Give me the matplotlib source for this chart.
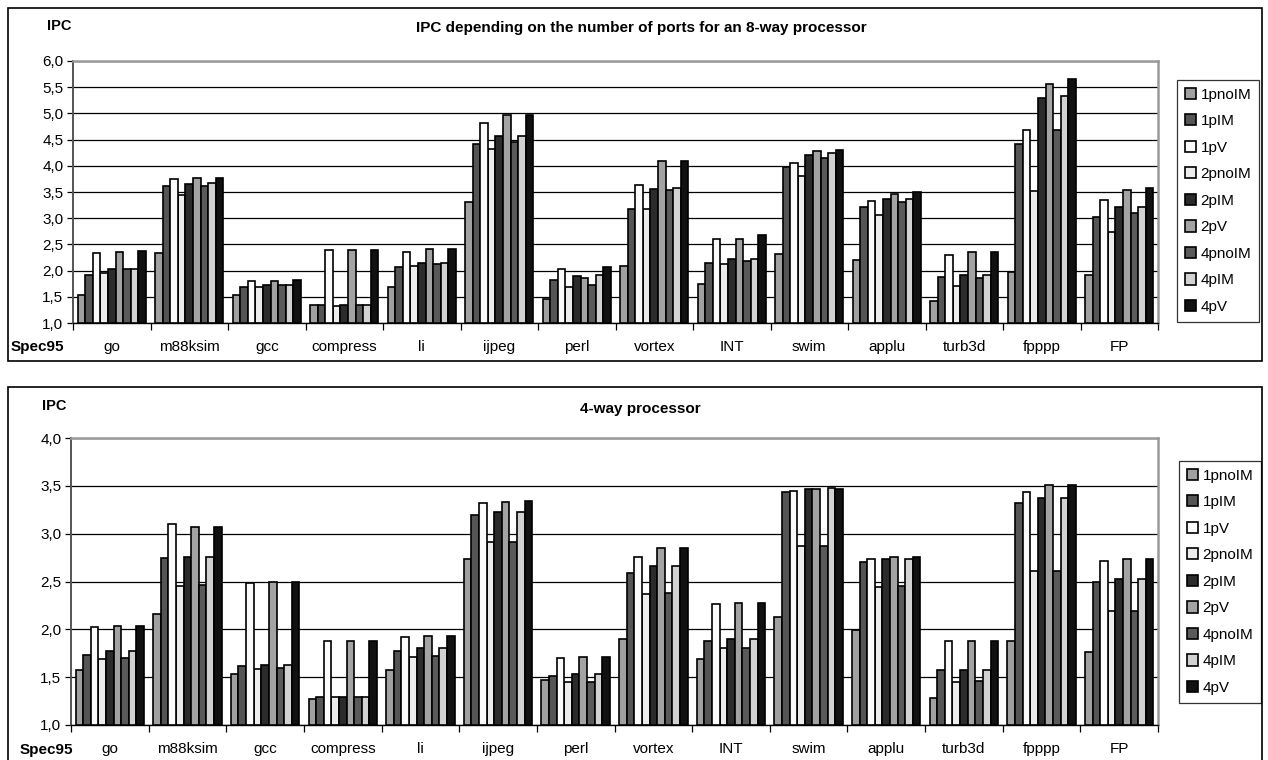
import numpy as np
import matplotlib.pyplot as plt
from matplotlib.patches import Rectangle
from matplotlib.ticker import FuncFormatter, MultipleLocator

plt.rcParams['font.family'] = ['Liberation Sans', 'DejaVu Sans']

benchmarks = ['go', 'm88ksim', 'gcc', 'compress', 'li', 'ijpeg', 'perl',
              'vortex', 'INT', 'swim', 'applu', 'turb3d', 'fpppp', 'FP']
configs = ['1pnoIM', '1pIM', '1pV', '2pnoIM', '2pIM', '2pV',
           '4pnoIM', '4pIM', '4pV']
fills = ['#a0a0a0', '#555555', '#fbfbfb', '#ececec', '#2b2b2b',
         '#a3a3a3', '#5a5a5a', '#d2d2d2', '#111111']

# IPC per benchmark, one list per port configuration (8-way machine)
ipc8_1pnoIM = [1.53, 2.33, 1.54, 1.34, 1.68, 3.31, 1.45, 2.08, 1.75, 2.32, 2.20, 1.42, 1.98, 1.91]
ipc8_1pIM   = [1.92, 3.61, 1.69, 1.34, 2.07, 4.41, 1.82, 3.17, 2.15, 3.97, 3.22, 1.87, 4.42, 3.02]
ipc8_1pV    = [2.33, 3.74, 1.80, 2.40, 2.35, 4.82, 2.04, 3.64, 2.61, 4.06, 3.33, 2.30, 4.68, 3.35]
ipc8_2pnoIM = [1.95, 3.44, 1.68, 1.33, 2.08, 4.32, 1.68, 3.18, 2.13, 3.81, 3.07, 1.71, 3.51, 2.74]
ipc8_2pIM   = [2.03, 3.66, 1.72, 1.34, 2.15, 4.56, 1.90, 3.55, 2.23, 4.20, 3.36, 1.92, 5.29, 3.21]
ipc8_2pV    = [2.36, 3.77, 1.81, 2.40, 2.41, 4.96, 1.85, 4.10, 2.61, 4.28, 3.47, 2.35, 5.57, 3.54]
ipc8_4pnoIM = [2.03, 3.62, 1.72, 1.34, 2.13, 4.45, 1.72, 3.54, 2.18, 4.14, 3.31, 1.85, 4.68, 3.09]
ipc8_4pIM   = [2.04, 3.68, 1.72, 1.34, 2.15, 4.57, 1.91, 3.57, 2.23, 4.24, 3.37, 1.91, 5.34, 3.22]
ipc8_4pV    = [2.37, 3.77, 1.82, 2.40, 2.41, 4.97, 2.06, 4.10, 2.67, 4.31, 3.50, 2.35, 5.66, 3.57]

# same for the 4-way machine
ipc4_1pnoIM = [1.58, 2.16, 1.53, 1.27, 1.57, 2.73, 1.47, 1.90, 1.69, 2.13, 1.99, 1.28, 1.88, 1.76]
ipc4_1pIM   = [1.73, 2.75, 1.62, 1.29, 1.77, 3.19, 1.51, 2.59, 1.88, 3.44, 2.70, 1.57, 3.32, 2.50]
ipc4_1pV    = [2.02, 3.10, 2.48, 1.88, 1.92, 3.32, 1.70, 2.76, 2.27, 3.45, 2.74, 1.88, 3.44, 2.71]
ipc4_2pnoIM = [1.69, 2.45, 1.59, 1.29, 1.71, 2.91, 1.45, 2.37, 1.80, 2.87, 2.44, 1.45, 2.61, 2.19]
ipc4_2pIM   = [1.77, 2.76, 1.63, 1.29, 1.80, 3.23, 1.53, 2.66, 1.90, 3.47, 2.74, 1.58, 3.37, 2.53]
ipc4_2pV    = [2.03, 3.07, 2.49, 1.88, 1.93, 3.33, 1.71, 2.85, 2.28, 3.47, 2.76, 1.88, 3.51, 2.73]
ipc4_4pnoIM = [1.70, 2.46, 1.60, 1.29, 1.72, 2.91, 1.45, 2.38, 1.80, 2.87, 2.45, 1.46, 2.61, 2.19]
ipc4_4pIM   = [1.77, 2.76, 1.63, 1.29, 1.80, 3.23, 1.53, 2.66, 1.90, 3.48, 2.74, 1.58, 3.37, 2.53]
ipc4_4pV    = [2.04, 3.07, 2.50, 1.88, 1.93, 3.34, 1.71, 2.85, 2.28, 3.47, 2.76, 1.88, 3.51, 2.73]

ipc8 = [ipc8_1pnoIM, ipc8_1pIM, ipc8_1pV, ipc8_2pnoIM, ipc8_2pIM,
        ipc8_2pV, ipc8_4pnoIM, ipc8_4pIM, ipc8_4pV]
ipc4 = [ipc4_1pnoIM, ipc4_1pIM, ipc4_1pV, ipc4_2pnoIM, ipc4_2pIM,
        ipc4_2pV, ipc4_4pnoIM, ipc4_4pIM, ipc4_4pV]

W, H = 1268, 760
fig = plt.figure(figsize=(W / 100, H / 100), dpi=100)


def px(x0, y0, x1, y1):
    # pixel box -> figure fraction rect
    return [x0 / W, 1 - y1 / H, (x1 - x0) / W, (y1 - y0) / H]


def draw_panel(ax, data, ymax, base=1.0):
    n = len(benchmarks)
    x = np.arange(n) + 0.5
    step = 0.098
    offs = (np.arange(len(configs)) - 4) * step
    for k, (vals, c) in enumerate(zip(data, fills)):
        vals = np.array(vals)
        z = 2 if k == 3 else 3
        ax.bar(x + offs[k], vals - base, bottom=base, width=step,
               color=c, edgecolor='black', linewidth=1.2, zorder=z,
               label=configs[k])
    ax.set_xlim(0, n)
    ax.set_ylim(base, ymax)
    ax.yaxis.set_major_locator(MultipleLocator(0.5))
    ax.yaxis.set_major_formatter(FuncFormatter(lambda v, p: f'{v:.1f}'.replace('.', ',')))
    ax.grid(axis='y', color='black', linewidth=0.9, zorder=1)
    ax.set_axisbelow(True)
    ax.set_xticks(np.arange(n + 1))
    ax.set_xticklabels([])
    ax.set_xticks(x, minor=True)
    ax.set_xticklabels(benchmarks, minor=True, fontsize=11)
    ax.tick_params(axis='x', which='major', length=5, direction='out', width=0.9)
    ax.tick_params(axis='x', which='minor', length=0, pad=12)
    ax.tick_params(axis='y', length=4, width=0.9, labelsize=11, pad=3)
    ax.spines['top'].set_color('#9a9a9a')
    ax.spines['right'].set_color('#9a9a9a')
    ax.spines['top'].set_linewidth(1.8)
    ax.spines['right'].set_linewidth(1.8)
    ax.spines['left'].set_color('#555555')
    ax.spines['left'].set_linewidth(1.4)
    ax.spines['bottom'].set_linewidth(1.0)
    leg = ax.legend(loc='upper left', frameon=True, fancybox=False,
                    fontsize=11, handlelength=0.75, handleheight=0.75,
                    handletextpad=0.3, labelspacing=0.82, borderpad=0.5,
                    borderaxespad=0, edgecolor='black')
    leg.get_frame().set_linewidth(0.9)
    return leg


# panel frames
fig.add_artist(Rectangle((8 / W, 1 - 361 / H), 1254 / W, 353 / H,
                         transform=fig.transFigure, fill=False,
                         edgecolor='black', linewidth=1.2))
fig.add_artist(Rectangle((8 / W, 1 - 800 / H), 1254 / W, 413 / H,
                         transform=fig.transFigure, fill=False,
                         edgecolor='black', linewidth=1.2))

ax1 = fig.add_axes(px(73, 61, 1158, 323))
leg1 = draw_panel(ax1, ipc8, 6.0)
leg1.set_bbox_to_anchor((1177 / W, 1 - 80 / H), transform=fig.transFigure)

ax2 = fig.add_axes(px(71, 438, 1158, 725))
leg2 = draw_panel(ax2, ipc4, 4.0)
leg2.set_bbox_to_anchor((1179 / W, 1 - 461 / H), transform=fig.transFigure)

fig.text(641 / W, 1 - 28 / H, 'IPC depending on the number of ports for an 8-way processor',
         ha='center', va='center', fontsize=11, fontweight='bold')
fig.text(640 / W, 1 - 409 / H, '4-way processor',
         ha='center', va='center', fontsize=11, fontweight='bold')
fig.text(59 / W, 1 - 26 / H, 'IPC', ha='center', va='center', fontsize=10.5, fontweight='bold')
fig.text(54 / W, 1 - 406 / H, 'IPC', ha='center', va='center', fontsize=10.5, fontweight='bold')
fig.text(37 / W, 1 - 347 / H, 'Spec95', ha='center', va='center', fontsize=11, fontweight='bold')
fig.text(46 / W, 1 - 750 / H, 'Spec95', ha='center', va='center', fontsize=11, fontweight='bold')

fig.savefig('out.png', dpi=100)
